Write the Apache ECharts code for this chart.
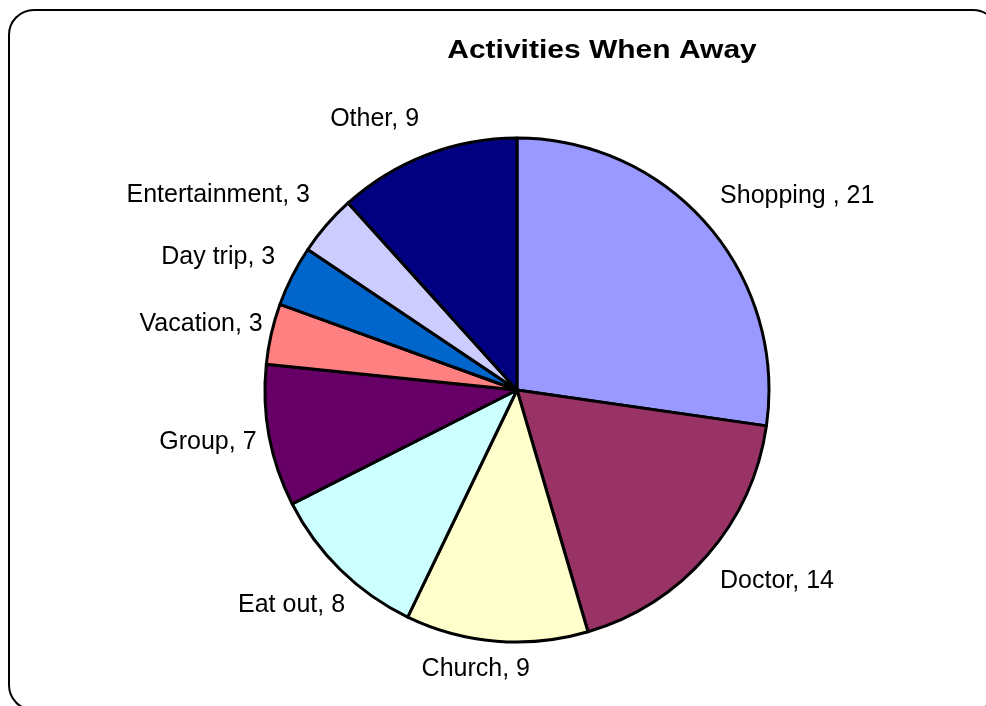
<!DOCTYPE html>
<html>
<head>
<meta charset="utf-8">
<title>Activities When Away</title>
<script src="https://cdn.jsdelivr.net/npm/echarts@6/dist/echarts.min.js"></script>
<style>
  html, body { margin: 0; padding: 0; background: #ffffff; }
  #chart { width: 986px; height: 706px; }
</style>
</head>
<body>
<div id="chart"></div>
<script>
// Activities and how many times each was reported
var activities = ['Shopping ', 'Doctor', 'Church', 'Eat out', 'Group', 'Vacation', 'Day trip', 'Entertainment', 'Other'];
var counts = [21, 14, 9, 8, 7, 3, 3, 3, 9];
var sliceColors = ['#9999FF', '#993366', '#FFFFCC', '#CCFFFF', '#660066', '#FF8080', '#0066CC', '#CCCCFF', '#000080'];
var chartTitle = 'Activities When Away';

// small per-label nudges (px) applied after the default outside placement
var labelNudgeX = [-12, -12, 46, 28, 16, 20, 10, 8, 10];
var labelNudgeY = [-17, 14, 10, 22, 3, -6, -11, -18, -19];

var chart = echarts.init(document.getElementById('chart'), null, { renderer: 'canvas' });

var pieData = activities.map(function (name, i) {
  return { name: name, value: counts[i], itemStyle: { color: sliceColors[i] } };
});

chart.setOption({
  backgroundColor: '#ffffff',
  animation: false,
  graphic: [
    {
      // rounded chart frame
      type: 'rect',
      shape: { x: 9, y: 10, width: 989, height: 700, r: 25 },
      style: { fill: 'none', stroke: '#000000', lineWidth: 2 },
      silent: true
    },
    {
      type: 'text',
      x: 602,
      y: 51,
      scaleX: 1.2,
      style: {
        text: chartTitle,
        x: 0,
        y: 0,
        align: 'center',
        verticalAlign: 'middle',
        fill: '#000000',
        font: 'bold 25px "Liberation Sans", Arial, sans-serif'
      },
      silent: true
    }
  ],
  series: [
    {
      type: 'pie',
      center: [517, 390],
      radius: ['0%', 252],
      startAngle: 90,
      clockwise: true,
      avoidLabelOverlap: false,
      itemStyle: { borderColor: '#000000', borderWidth: 3 },
      label: {
        show: true,
        position: 'outside',
        formatter: '{b}, {c}',
        color: '#000000',
        fontFamily: '"Liberation Sans", Arial, sans-serif',
        fontSize: 25
      },
      labelLine: { show: false, length: 18, length2: 6 },
      labelLayout: function (params) {
        return { dx: labelNudgeX[params.dataIndex], dy: labelNudgeY[params.dataIndex] };
      },
      emphasis: { disabled: true },
      data: pieData
    }
  ]
});
</script>
</body>
</html>
